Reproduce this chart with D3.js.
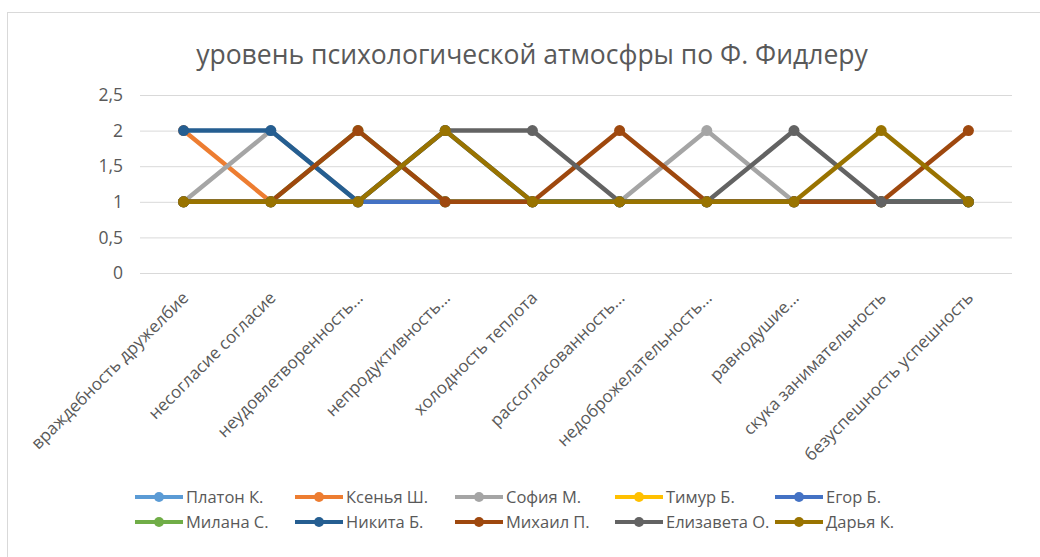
<!DOCTYPE html>
<html><head><meta charset="utf-8">
<script src="https://cdn.jsdelivr.net/npm/d3@7"></script>
<style>
html,body{margin:0;padding:0;background:#fff;}
svg{display:block;font-family:"Open Sans",sans-serif;}
</style></head>
<body>
<svg id="chart" width="1040" height="557"></svg>
<script>
const title = "уровень психологической атмосфры по Ф. Фидлеру";
const categories = ["враждебность дружелбие","несогласие согласие","неудовлетворенность...","непродуктивность...","холодность теплота","рассогласованность...","недоброжелательность...","равнодушие...","скука занимательность","безуспешность успешность"];
const yTicks = [0, 0.5, 1, 1.5, 2, 2.5];
const seriesNames = ["Платон К.","Ксенья Ш.","София М.","Тимур Б.","Егор Б.","Милана С.","Никита Б.","Михаил П.","Елизавета О.","Дарья К."];
const seriesColors = ["#5B9BD5","#ED7D31","#A5A5A5","#FFC000","#4472C4","#70AD47","#255E91","#9E480E","#636363","#997300"];
const platon    = [1,1,1,1,1,1,1,1,1,1];
const ksenia    = [2,1,1,1,1,1,1,1,1,1];
const sofia     = [1,2,1,1,1,1,2,1,1,1];
const timur     = [1,1,1,1,1,1,1,1,1,1];
const egor      = [1,1,1,1,1,1,1,1,1,1];
const milana    = [1,1,2,1,1,1,1,1,1,1];
const nikita    = [2,2,1,2,1,1,1,1,1,1];
const mikhail   = [1,1,2,1,1,2,1,1,1,2];
const elizaveta = [1,1,1,2,2,1,1,2,1,1];
const darya     = [1,1,1,2,1,1,1,1,2,1];
const seriesValues = [platon,ksenia,sofia,timur,egor,milana,nikita,mikhail,elizaveta,darya];

const svg = d3.select("#chart");
const textColor = "#595959";

// outer frame
svg.append("rect").attr("x",7.5).attr("y",12.5).attr("width",1040).attr("height",560)
  .attr("fill","#fff").attr("stroke","#d9d9d9");

// title
svg.append("text").attr("x",532).attr("y",64).attr("text-anchor","middle")
  .attr("font-size",26.5).attr("fill",textColor).text(title);

const plot = {left:140, right:1012, top:95, bottom:273};
const x = d3.scaleBand().domain(categories).range([plot.left, plot.right]);
const y = d3.scaleLinear().domain([0,2.5]).range([plot.bottom, plot.top]);

// grid + y axis
const yAxis = d3.axisLeft(y).tickValues(yTicks).tickSize(-(plot.right-plot.left))
  .tickFormat(d => String(d).replace(".", ","));
const gy = svg.append("g").attr("transform",`translate(${plot.left},0)`).call(yAxis);
gy.select(".domain").remove();
gy.selectAll(".tick line").attr("stroke","#d9d9d9").attr("stroke-width",1);
gy.selectAll(".tick text").attr("x",-17).attr("fill",textColor).attr("font-size",17.5)
  .attr("font-family","Open Sans, sans-serif");

// x axis labels
const xAxis = d3.axisBottom(x).tickSize(0);
const gx = svg.append("g").attr("transform",`translate(0,${plot.bottom})`).call(xAxis);
gx.select(".domain").remove();
gx.selectAll(".tick text")
  .attr("fill",textColor).attr("font-size",17).attr("font-family","Open Sans, sans-serif")
  .attr("text-anchor","end").attr("dy",0).attr("y",0)
  .attr("transform","translate(6,26) rotate(-45)");

// lines
const line = d3.line().x((d,i)=>x(categories[i])+x.bandwidth()/2).y(d=>y(d));
seriesValues.forEach((vals,si)=>{
  const g = svg.append("g");
  g.append("path").datum(vals).attr("d",line).attr("fill","none")
    .attr("stroke",seriesColors[si]).attr("stroke-width",4.5).attr("stroke-linejoin","round");
  g.selectAll("circle").data(vals).join("circle")
    .attr("cx",(d,i)=>x(categories[i])+x.bandwidth()/2).attr("cy",d=>y(d))
    .attr("r",5.5).attr("fill",seriesColors[si]);
});

// legend
const leg = svg.append("g");
seriesNames.forEach((n,i)=>{
  const col = i%5, row = Math.floor(i/5);
  const lx = 135 + col*160, ly = 497 + row*25;
  const g = leg.append("g").attr("transform",`translate(${lx},${ly})`);
  g.append("line").attr("x1",0).attr("x2",48).attr("y1",0).attr("y2",0)
    .attr("stroke",seriesColors[i]).attr("stroke-width",4);
  g.append("circle").attr("cx",24).attr("cy",0).attr("r",5).attr("fill",seriesColors[i]);
  g.append("text").attr("x",51).attr("y",0).attr("dy","0.35em").attr("font-size",16.5)
    .attr("fill",textColor).text(n);
});
</script>
</body></html>
